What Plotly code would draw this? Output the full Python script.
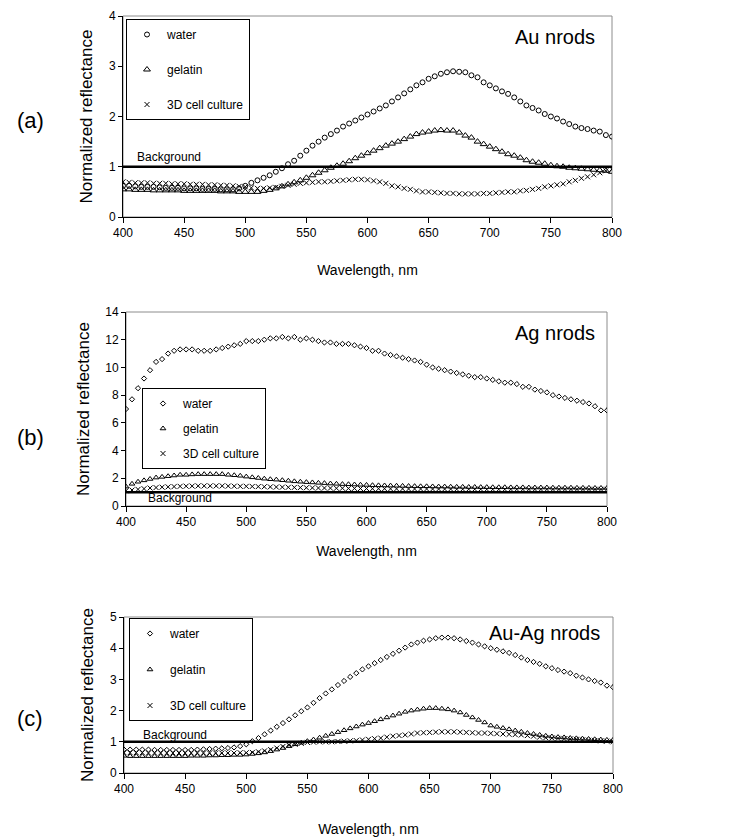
import plotly.graph_objects as go

# ---------------- data ----------------
wavelength = [400, 405, 410, 415, 420, 425, 430, 435, 440, 445,
              450, 455, 460, 465, 470, 475, 480, 485, 490, 495,
              500, 505, 510, 515, 520, 525, 530, 535, 540, 545,
              550, 555, 560, 565, 570, 575, 580, 585, 590, 595,
              600, 605, 610, 615, 620, 625, 630, 635, 640, 645,
              650, 655, 660, 665, 670, 675, 680, 685, 690, 695,
              700, 705, 710, 715, 720, 725, 730, 735, 740, 745,
              750, 755, 760, 765, 770, 775, 780, 785, 790, 795,
              800]

background_level = 1.0

# (a) Au nrods
au_water = [0.62, 0.62, 0.61, 0.60, 0.60, 0.60, 0.59, 0.58, 0.58, 0.58,
            0.57, 0.57, 0.57, 0.56, 0.56, 0.56, 0.55, 0.55, 0.55, 0.57,
            0.62, 0.68, 0.73, 0.78, 0.83, 0.90, 0.97, 1.05, 1.12, 1.22,
            1.32, 1.42, 1.50, 1.58, 1.65, 1.72, 1.80, 1.86, 1.92, 1.98,
            2.04, 2.10, 2.16, 2.22, 2.30, 2.38, 2.46, 2.54, 2.62, 2.68,
            2.75, 2.80, 2.85, 2.88, 2.90, 2.89, 2.88, 2.82, 2.78, 2.68,
            2.62, 2.56, 2.50, 2.45, 2.38, 2.30, 2.22, 2.17, 2.12, 2.05,
            2.00, 1.96, 1.90, 1.85, 1.80, 1.77, 1.75, 1.72, 1.70, 1.63,
            1.60]
au_gelatin = [0.55, 0.55, 0.54, 0.54, 0.54, 0.53, 0.53, 0.53, 0.53, 0.53,
              0.52, 0.52, 0.52, 0.52, 0.52, 0.52, 0.51, 0.51, 0.51, 0.50,
              0.50, 0.50, 0.50, 0.52, 0.54, 0.57, 0.61, 0.65, 0.69, 0.73,
              0.78, 0.83, 0.88, 0.93, 0.98, 1.02, 1.06, 1.11, 1.17, 1.22,
              1.27, 1.32, 1.37, 1.42, 1.46, 1.50, 1.55, 1.60, 1.65, 1.68,
              1.70, 1.72, 1.73, 1.72, 1.72, 1.68, 1.62, 1.58, 1.50, 1.45,
              1.40, 1.35, 1.30, 1.25, 1.22, 1.18, 1.13, 1.10, 1.08, 1.06,
              1.03, 1.01, 1.00, 0.98, 0.97, 0.96, 0.95, 0.94, 0.93, 0.92,
              0.90]
au_cell = [0.70, 0.69, 0.68, 0.68, 0.68, 0.67, 0.67, 0.67, 0.66, 0.66,
           0.66, 0.65, 0.65, 0.65, 0.64, 0.64, 0.63, 0.63, 0.62, 0.61,
           0.60, 0.58, 0.57, 0.57, 0.58, 0.59, 0.61, 0.63, 0.65, 0.67,
           0.68, 0.69, 0.70, 0.70, 0.71, 0.72, 0.73, 0.74, 0.75, 0.75,
           0.74, 0.72, 0.70, 0.67, 0.62, 0.60, 0.57, 0.55, 0.52, 0.50,
           0.50, 0.49, 0.48, 0.47, 0.47, 0.46, 0.46, 0.46, 0.46, 0.47,
           0.47, 0.48, 0.49, 0.50, 0.50, 0.52, 0.53, 0.55, 0.57, 0.60,
           0.62, 0.64, 0.66, 0.70, 0.73, 0.77, 0.80, 0.84, 0.88, 0.92,
           0.95]

# (b) Ag nrods
ag_water = [7.0, 7.7, 8.5, 9.2, 9.8, 10.4, 10.6, 11.0, 11.2, 11.3,
            11.3, 11.3, 11.2, 11.2, 11.2, 11.3, 11.4, 11.5, 11.6, 11.7,
            11.9, 11.9, 11.9, 12.0, 12.1, 12.1, 12.2, 12.1, 12.2, 12.0,
            12.1, 12.0, 11.9, 11.8, 11.8, 11.7, 11.7, 11.7, 11.6, 11.5,
            11.4, 11.2, 11.2, 11.0, 10.9, 10.8, 10.7, 10.6, 10.5, 10.4,
            10.2, 10.0, 9.9, 9.8, 9.7, 9.6, 9.5, 9.4, 9.3, 9.3,
            9.2, 9.1, 9.0, 8.9, 8.9, 8.8, 8.6, 8.6, 8.4, 8.3,
            8.2, 8.0, 7.9, 7.8, 7.7, 7.6, 7.5, 7.4, 7.2, 6.9,
            6.9]
ag_gelatin = [1.40, 1.60, 1.75, 1.85, 1.95, 2.05, 2.10, 2.15, 2.20, 2.25,
              2.25, 2.28, 2.30, 2.30, 2.30, 2.30, 2.30, 2.25, 2.22, 2.18,
              2.12, 2.07, 2.02, 1.97, 1.93, 1.90, 1.86, 1.82, 1.78, 1.75,
              1.72, 1.70, 1.67, 1.65, 1.62, 1.60, 1.58, 1.57, 1.55, 1.53,
              1.52, 1.50, 1.49, 1.48, 1.47, 1.46, 1.45, 1.44, 1.43, 1.42,
              1.42, 1.41, 1.40, 1.40, 1.39, 1.38, 1.38, 1.37, 1.37, 1.36,
              1.36, 1.35, 1.35, 1.35, 1.34, 1.34, 1.34, 1.33, 1.33, 1.33,
              1.33, 1.32, 1.32, 1.32, 1.32, 1.31, 1.31, 1.31, 1.30, 1.30,
              1.30]
ag_cell = [1.10, 1.15, 1.20, 1.25, 1.30, 1.33, 1.36, 1.38, 1.40, 1.42,
           1.43, 1.44, 1.45, 1.45, 1.45, 1.45, 1.45, 1.44, 1.43, 1.42,
           1.42, 1.41, 1.40, 1.39, 1.38, 1.37, 1.36, 1.35, 1.34, 1.33,
           1.32, 1.31, 1.30, 1.30, 1.29, 1.28, 1.28, 1.27, 1.27, 1.26,
           1.26, 1.25, 1.25, 1.25, 1.24, 1.24, 1.24, 1.23, 1.23, 1.23,
           1.23, 1.22, 1.22, 1.22, 1.22, 1.21, 1.21, 1.21, 1.21, 1.21,
           1.20, 1.20, 1.20, 1.20, 1.20, 1.20, 1.20, 1.20, 1.20, 1.20,
           1.20, 1.20, 1.20, 1.20, 1.20, 1.20, 1.20, 1.20, 1.20, 1.20,
           1.20]

# (c) Au-Ag nrods
auag_water = [0.75, 0.75, 0.75, 0.75, 0.75, 0.74, 0.74, 0.74, 0.74, 0.74,
              0.74, 0.74, 0.75, 0.76, 0.77, 0.78, 0.79, 0.80, 0.82, 0.86,
              0.92, 1.02, 1.12, 1.24, 1.36, 1.48, 1.60, 1.72, 1.85, 1.98,
              2.10, 2.25, 2.40, 2.55, 2.68, 2.82, 2.95, 3.08, 3.20, 3.32,
              3.42, 3.52, 3.62, 3.72, 3.82, 3.92, 4.02, 4.12, 4.18, 4.24,
              4.28, 4.32, 4.34, 4.34, 4.32, 4.28, 4.23, 4.18, 4.12, 4.06,
              4.00, 3.95, 3.90, 3.85, 3.78, 3.70, 3.62, 3.56, 3.50, 3.42,
              3.36, 3.30, 3.25, 3.20, 3.12, 3.06, 3.00, 2.95, 2.90, 2.80,
              2.75]
auag_gelatin = [0.55, 0.54, 0.54, 0.54, 0.54, 0.54, 0.54, 0.54, 0.54, 0.54,
                0.54, 0.55, 0.55, 0.55, 0.56, 0.56, 0.57, 0.57, 0.58, 0.58,
                0.59, 0.61, 0.63, 0.66, 0.70, 0.75, 0.80, 0.86, 0.92, 0.97,
                1.02, 1.07, 1.13, 1.19, 1.25, 1.31, 1.37, 1.43, 1.49, 1.55,
                1.60, 1.66, 1.72, 1.78, 1.84, 1.90, 1.96, 2.00, 2.03, 2.06,
                2.08, 2.08, 2.06, 2.04, 2.00, 1.94, 1.86, 1.78, 1.70, 1.62,
                1.52, 1.48, 1.44, 1.40, 1.36, 1.32, 1.28, 1.25, 1.22, 1.19,
                1.17, 1.15, 1.14, 1.12, 1.11, 1.10, 1.09, 1.08, 1.07, 1.06,
                1.06]
auag_cell = [0.65, 0.65, 0.65, 0.65, 0.64, 0.64, 0.64, 0.64, 0.64, 0.64,
             0.64, 0.64, 0.64, 0.64, 0.64, 0.64, 0.64, 0.64, 0.64, 0.65,
             0.65, 0.66, 0.68, 0.71, 0.75, 0.80, 0.85, 0.89, 0.92, 0.95,
             0.98, 0.99, 1.00, 1.00, 1.00, 1.01, 1.02, 1.03, 1.04, 1.06,
             1.08, 1.10, 1.12, 1.15, 1.18, 1.20, 1.22, 1.25, 1.28, 1.29,
             1.30, 1.31, 1.32, 1.32, 1.32, 1.31, 1.30, 1.29, 1.28, 1.28,
             1.27, 1.26, 1.25, 1.24, 1.23, 1.22, 1.20, 1.18, 1.15, 1.13,
             1.12, 1.11, 1.10, 1.09, 1.08, 1.06, 1.05, 1.04, 1.03, 1.02,
             1.00]

series_names = ["water", "gelatin", "3D cell culture"]
panel_titles = ["Au nrods", "Ag nrods", "Au-Ag nrods"]
panel_labels = ["(a)", "(b)", "(c)"]
y_ranges = [[0, 4], [0, 14], [0, 5]]
y_dticks = [1, 2, 1]
x_range = [400, 800]
x_dtick = 50

panels = [
    [au_water, au_gelatin, au_cell],
    [ag_water, ag_gelatin, ag_cell],
    [auag_water, auag_gelatin, auag_cell],
]

# ---------------- style ----------------
FONT = "Liberation Sans, Arial, sans-serif"
W, H = 736, 837

# plot area pixel boxes (left, right, top, bottom)
boxes = [(123, 612, 16, 217), (126, 607, 312, 506), (124, 613, 617, 773)]
legend_pos = [(126, 19), (142, 388), (129, 618)]
legend_gaps = [16, 6, 17]
title_pos = [(597, 37), (597, 333), (602, 633)]
label_y = [120, 437, 718]
x_standoff = [25, 17, 28]
bg_label = [(410, 1.2), (417, 0.57), (414, 1.22)]

symbols = [
    ["circle-open", "triangle-up-open", "x-thin-open"],
    ["diamond-open", "triangle-up-open", "x-thin-open"],
    ["diamond-open", "triangle-up-open", "x-thin-open"],
]
sizes = [[5, 6, 5], [4, 5, 5], [4, 5, 5]]

fig = go.Figure()
layout = dict(
    width=W, height=H,
    margin=dict(l=0, r=0, t=0, b=0, autoexpand=False),
    paper_bgcolor="white", plot_bgcolor="white",
    font=dict(family=FONT, size=12, color="black"),
    showlegend=True,
)
annotations = []
shapes = []

for i in range(3):
    sfx = "" if i == 0 else str(i + 1)
    xa, ya = "x" + sfx, "y" + sfx
    l, r, t, b = boxes[i]
    leg = "legend" + sfx
    for j in range(3):
        fig.add_trace(go.Scatter(
            x=wavelength, y=panels[i][j], mode="markers",
            name=series_names[j],
            marker=dict(symbol=symbols[i][j], size=sizes[i][j], color="black",
                        line=dict(width=1, color="black")),
            xaxis=xa, yaxis=ya, legend=leg, legendgroup=f"p{i}s{j}",
        ))
    fig.add_trace(go.Scatter(
        x=[wavelength[0], wavelength[-1]], y=[background_level, background_level],
        mode="lines", line=dict(color="black", width=2.5),
        xaxis=xa, yaxis=ya, showlegend=False, hoverinfo="skip",
    ))
    layout["xaxis" + sfx] = dict(
        domain=[l / W, r / W], anchor=ya, range=x_range, dtick=x_dtick,
        ticks="outside", ticklen=5, tickcolor="black", showline=True,
        linecolor="black", linewidth=1, showgrid=False, zeroline=False,
        tickfont=dict(size=12), automargin=False,
        title=dict(text="Wavelength, nm", font=dict(size=14), standoff=x_standoff[i]),
    )
    layout["yaxis" + sfx] = dict(
        domain=[1 - b / H, 1 - t / H], anchor=xa, range=y_ranges[i],
        dtick=y_dticks[i], ticks="outside", ticklen=4, tickcolor="black",
        showline=True, linecolor="black", linewidth=1, showgrid=False,
        zeroline=False, tickfont=dict(size=12), automargin=False,
        title=dict(text="Normalized reflectance", font=dict(size=17), standoff=11),
    )
    lx, ly = legend_pos[i]
    layout[leg] = dict(
        x=lx / W, y=1 - ly / H, xanchor="left", yanchor="top",
        bordercolor="black", borderwidth=1, bgcolor="white",
        font=dict(size=12), tracegroupgap=legend_gaps[i], itemsizing="trace",
        itemwidth=30,
    )
    shapes.append(dict(type="rect", xref=xa + " domain", yref=ya + " domain",
                       x0=0, x1=1, y0=0, y1=1, layer="below",
                       line=dict(color="#8c8c8c", width=1)))
    tx, ty = title_pos[i]
    annotations.append(dict(text=panel_titles[i], xref="paper", yref="paper",
                            x=tx / W, y=1 - ty / H, xanchor="right", yanchor="middle",
                            showarrow=False, font=dict(size=20)))
    annotations.append(dict(text=panel_labels[i], xref="paper", yref="paper",
                            x=30 / W, y=1 - label_y[i] / H, xanchor="center",
                            yanchor="middle", showarrow=False, font=dict(size=22)))
    bx, by = bg_label[i]
    annotations.append(dict(text="Background", xref=xa, yref=ya, x=bx, y=by,
                            xanchor="left", yanchor="middle", showarrow=False,
                            font=dict(size=12)))

layout["annotations"] = annotations
layout["shapes"] = shapes
fig.update_layout(**layout)
fig.write_html("out.html", config={"displayModeBar": False},
               post_script="document.body.style.margin='0';document.body.style.padding='0';")
